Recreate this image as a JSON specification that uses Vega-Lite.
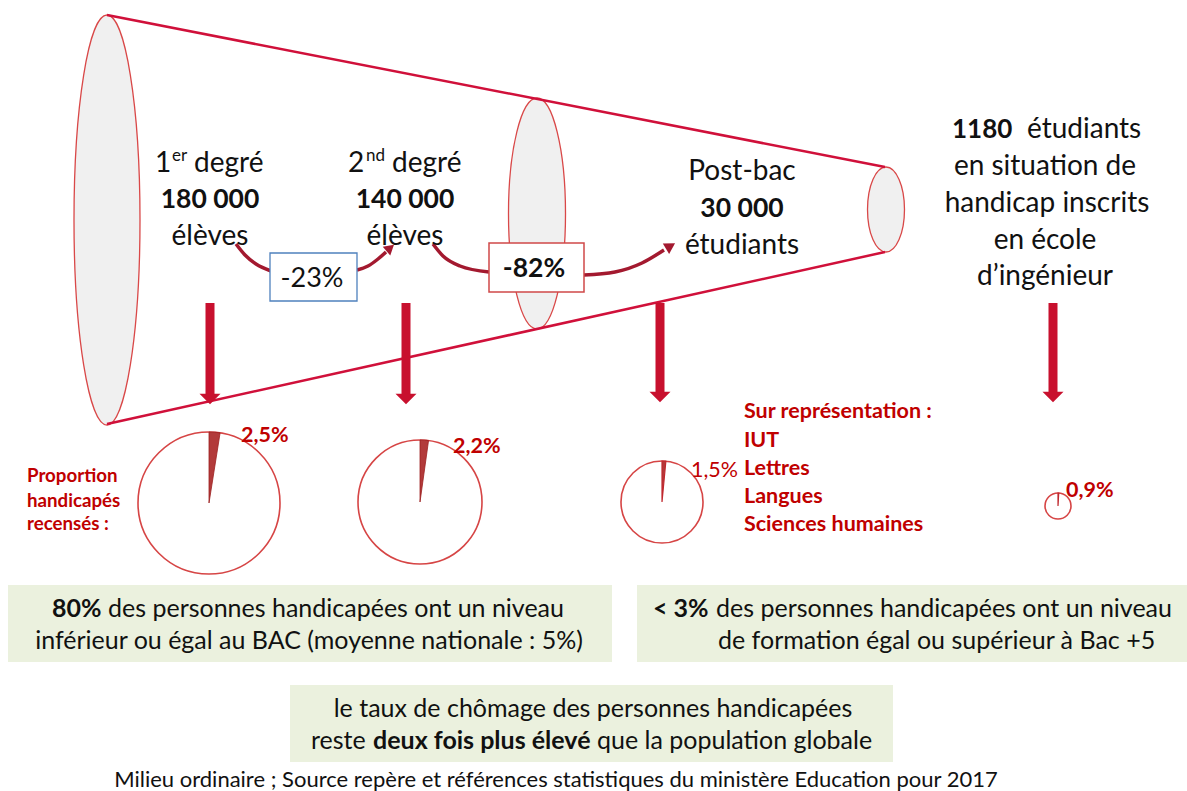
{
  "$schema": "https://vega.github.io/schema/vega-lite/v6.json",
  "width": 1187,
  "height": 791,
  "autosize": {"type": "fit", "contains": "padding"},
  "padding": 0,
  "background": "white",
  "config": {"view": {"stroke": null}, "text": {"font": "Lato"}},
  "datasets": {
    "pies": [
      {"etape": "1er degré", "n": 180000, "pct": 2.5, "x": 209, "y": 503},
      {"etape": "2nd degré", "n": 140000, "pct": 2.2, "x": 420, "y": 502},
      {"etape": "Post-bac", "n": 30000, "pct": 1.5, "x": 662, "y": 502},
      {"etape": "École d'ingénieur", "n": 1180, "pct": 0.9, "x": 1058, "y": 506}
    ]
  },
  "encoding": {
    "x": {"field": "x", "type": "quantitative", "scale": {"domain": [0, 1187], "nice": false, "zero": false}, "axis": null},
    "y": {"field": "y", "type": "quantitative", "scale": {"domain": [0, 791], "nice": false, "zero": false, "reverse": true}, "axis": null}
  },
  "layer": [
    {
      "data": {"values": [{"part": "entrée 1er degré", "x": 107, "y": 220}]},
      "mark": {"type": "point", "shape": "M0,-1C0.0889,-1 0.161,-0.5523 0.161,0C0.161,0.5523 0.0889,1 0,1C-0.0889,1 -0.161,0.5523 -0.161,0C-0.161,-0.5523 -0.0889,-1 0,-1Z", "size": 168100, "filled": true, "fill": "#f0f0f0", "stroke": "#d94848", "strokeWidth": 1.3, "opacity": 1}
    },
    {
      "data": {"values": [{"part": "entrée post-bac", "x": 537, "y": 213.5}]},
      "mark": {"type": "point", "shape": "M0,-1C0.1363,-1 0.2468,-0.5523 0.2468,0C0.2468,0.5523 0.1363,1 0,1C-0.1363,1 -0.2468,0.5523 -0.2468,0C-0.2468,-0.5523 -0.1363,-1 0,-1Z", "size": 53361, "filled": true, "fill": "#f0f0f0", "stroke": "#d94848", "strokeWidth": 1.3, "opacity": 1}
    },
    {
      "data": {"values": [{"part": "sortie", "x": 886, "y": 209.5}]},
      "mark": {"type": "point", "shape": "M0,-1C0.2403,-1 0.435,-0.5523 0.435,0C0.435,0.5523 0.2403,1 0,1C-0.2403,1 -0.435,0.5523 -0.435,0C-0.435,-0.5523 -0.2403,-1 0,-1Z", "size": 7225, "filled": true, "fill": "#f0f0f0", "stroke": "#d94848", "strokeWidth": 1.3, "opacity": 1}
    },
    {
      "data": {"values": [{"edge": "haut", "x": 107, "y": 15, "x2": 885, "y2": 167}, {"edge": "bas", "x": 107, "y": 424, "x2": 885, "y2": 252}]},
      "mark": {"type": "rule", "color": "#d0103a", "strokeWidth": 2.5},
      "encoding": {"x2": {"field": "x2"}, "y2": {"field": "y2"}}
    },
    {
      "data": {"values": [
        {"seg": "A1", "x": 236, "y": 244}, {"seg": "A1", "x": 245, "y": 255}, {"seg": "A1", "x": 256, "y": 264}, {"seg": "A1", "x": 271, "y": 271},
        {"seg": "A2", "x": 357, "y": 270}, {"seg": "A2", "x": 368, "y": 266}, {"seg": "A2", "x": 378, "y": 259}, {"seg": "A2", "x": 386, "y": 252},
        {"seg": "B1", "x": 433, "y": 244}, {"seg": "B1", "x": 443, "y": 256}, {"seg": "B1", "x": 460, "y": 266}, {"seg": "B1", "x": 489, "y": 272},
        {"seg": "B2", "x": 584, "y": 275}, {"seg": "B2", "x": 615, "y": 272}, {"seg": "B2", "x": 642, "y": 263}, {"seg": "B2", "x": 664, "y": 250}
      ]},
      "mark": {"type": "line", "interpolate": "monotone", "color": "#a3192f", "strokeWidth": 3.5},
      "encoding": {"detail": {"field": "seg"}}
    },
    {
      "data": {"values": [{"head": "A", "x": 389, "y": 249}]},
      "mark": {"type": "point", "shape": "triangle", "size": 130, "angle": 49, "filled": true, "color": "#a3192f", "opacity": 1}
    },
    {
      "data": {"values": [{"head": "B", "x": 669, "y": 247}]},
      "mark": {"type": "point", "shape": "triangle", "size": 150, "angle": 59, "filled": true, "color": "#a3192f", "opacity": 1}
    },
    {
      "data": {"values": [{"box": "-23%", "x": 270, "x2": 357, "y": 253, "y2": 301}]},
      "mark": {"type": "rect", "fill": "white", "stroke": "#4f81bd", "strokeWidth": 1.3},
      "encoding": {"x2": {"field": "x2"}, "y2": {"field": "y2"}}
    },
    {
      "data": {"values": [{"box": "-82%", "x": 489, "x2": 584, "y": 243, "y2": 292}]},
      "mark": {"type": "rect", "fill": "white", "stroke": "#d04848", "strokeWidth": 1.5},
      "encoding": {"x2": {"field": "x2"}, "y2": {"field": "y2"}}
    },
    {
      "data": {"values": [{"box": 1, "x": 8, "x2": 612, "y": 585, "y2": 662}, {"box": 2, "x": 637, "x2": 1187, "y": 585, "y2": 662}, {"box": 3, "x": 290, "x2": 893, "y": 685, "y2": 762}]},
      "mark": {"type": "rect", "fill": "#ebf1de"},
      "encoding": {"x2": {"field": "x2"}, "y2": {"field": "y2"}}
    },
    {
      "data": {"values": [{"a": 1, "x": 210, "y": 303, "y2": 395}, {"a": 2, "x": 406, "y": 303, "y2": 395}, {"a": 3, "x": 660, "y": 303, "y2": 393}, {"a": 4, "x": 1053, "y": 303, "y2": 393}]},
      "mark": {"type": "rule", "color": "#c8102e", "strokeWidth": 9, "strokeCap": "butt"},
      "encoding": {"y2": {"field": "y2"}}
    },
    {
      "data": {"values": [{"a": 1, "x": 210, "y": 399}, {"a": 2, "x": 406, "y": 399}, {"a": 3, "x": 660, "y": 397}, {"a": 4, "x": 1053, "y": 397}]},
      "mark": {"type": "point", "shape": "M-1,-0.5L1,-0.5L0,0.5Z", "size": 441, "filled": true, "color": "#c8102e", "opacity": 1}
    },
    {
      "data": {"name": "pies"},
      "transform": [{"filter": "datum.etape === '1er degré'"}],
      "layer": [
        {"mark": {"type": "arc", "theta": 0, "theta2": 6.2832, "radius": 71, "fill": "white", "stroke": "#d64545", "strokeWidth": 1.6}},
        {"mark": {"type": "arc", "radius": 71, "fill": "#b23a3a", "stroke": "#9c1f1f", "strokeWidth": 0.8},
         "encoding": {"theta": {"field": "pct", "type": "quantitative", "stack": null, "scale": {"domain": [0, 100], "range": [0, 6.283185]}}, "theta2": {"datum": 0}}}
      ]
    },
    {
      "data": {"name": "pies"},
      "transform": [{"filter": "datum.etape === '2nd degré'"}],
      "layer": [
        {"mark": {"type": "arc", "theta": 0, "theta2": 6.2832, "radius": 62, "fill": "white", "stroke": "#d64545", "strokeWidth": 1.6}},
        {"mark": {"type": "arc", "radius": 62, "fill": "#b23a3a", "stroke": "#9c1f1f", "strokeWidth": 0.8},
         "encoding": {"theta": {"field": "pct", "type": "quantitative", "stack": null, "scale": {"domain": [0, 100], "range": [0, 6.283185]}}, "theta2": {"datum": 0}}}
      ]
    },
    {
      "data": {"name": "pies"},
      "transform": [{"filter": "datum.etape === 'Post-bac'"}],
      "layer": [
        {"mark": {"type": "arc", "theta": 0, "theta2": 6.2832, "radius": 41, "fill": "white", "stroke": "#d64545", "strokeWidth": 1.6}},
        {"mark": {"type": "arc", "radius": 41, "fill": "#b23a3a", "stroke": "#c0282e", "strokeWidth": 1.2},
         "encoding": {"theta": {"field": "pct", "type": "quantitative", "stack": null, "scale": {"domain": [0, 100], "range": [0, 6.283185]}}, "theta2": {"datum": 0}}}
      ]
    },
    {
      "data": {"name": "pies"},
      "transform": [{"filter": "datum.etape === \"École d'ingénieur\""}],
      "layer": [
        {"mark": {"type": "arc", "theta": 0, "theta2": 6.2832, "radius": 13, "fill": "white", "stroke": "#d64545", "strokeWidth": 1.6}},
        {"mark": {"type": "arc", "radius": 13, "fill": "#b23a3a", "stroke": "#c0282e", "strokeWidth": 1.2},
         "encoding": {"theta": {"field": "pct", "type": "quantitative", "stack": null, "scale": {"domain": [0, 100], "range": [0, 6.283185]}}, "theta2": {"datum": 0}}}
      ]
    },
    {
      "data": {"values": [
        {"t": "élèves", "x": 210, "y": 245}, {"t": "élèves", "x": 405, "y": 245},
        {"t": "Post-bac", "x": 742, "y": 180}, {"t": "étudiants", "x": 742, "y": 254},
        {"t": "en situation de", "x": 1045, "y": 175}, {"t": "handicap inscrits", "x": 1047, "y": 212},
        {"t": "en école", "x": 1045, "y": 249}, {"t": "d’ingénieur", "x": 1045, "y": 285}
      ]},
      "mark": {"type": "text", "fontSize": 28, "color": "#111111", "align": "center", "baseline": "alphabetic"},
      "encoding": {"text": {"field": "t"}}
    },
    {
      "data": {"values": [{"t": "-23%", "x": 312, "y": 287}]},
      "mark": {"type": "text", "fontSize": 27, "color": "#111111", "align": "center", "baseline": "alphabetic"},
      "encoding": {"text": {"field": "t"}}
    },
    {
      "data": {"values": [
        {"t": "1", "x": 155, "y": 172}, {"t": "degré", "x": 194, "y": 172},
        {"t": "2", "x": 348, "y": 172}, {"t": "degré", "x": 392, "y": 172},
        {"t": "étudiants", "x": 1027, "y": 138}
      ]},
      "mark": {"type": "text", "fontSize": 28, "color": "#111111", "align": "left", "baseline": "alphabetic"},
      "encoding": {"text": {"field": "t"}}
    },
    {
      "data": {"values": [{"t": "er", "x": 172, "y": 161}, {"t": "nd", "x": 366, "y": 161}]},
      "mark": {"type": "text", "fontSize": 17, "color": "#111111", "align": "left", "baseline": "alphabetic"},
      "encoding": {"text": {"field": "t"}}
    },
    {
      "data": {"values": [
        {"t": "180 000", "x": 210, "y": 208}, {"t": "140 000", "x": 405, "y": 208},
        {"t": "30 000", "x": 742, "y": 217}, {"t": "-82%", "x": 534, "y": 277}
      ]},
      "mark": {"type": "text", "fontSize": 26.5, "fontWeight": "bold", "color": "#111111", "align": "center", "baseline": "alphabetic"},
      "encoding": {"text": {"field": "t"}}
    },
    {
      "data": {"values": [{"t": "1180", "x": 952, "y": 138}]},
      "mark": {"type": "text", "fontSize": 26, "fontWeight": "bold", "color": "#111111", "align": "left", "baseline": "alphabetic"},
      "encoding": {"text": {"field": "t"}}
    },
    {
      "data": {"values": [
        {"t": "2,5%", "x": 241, "y": 442}, {"t": "2,2%", "x": 453, "y": 453}, {"t": "0,9%", "x": 1066, "y": 497},
        {"t": "Sur représentation :", "x": 744, "y": 418}, {"t": "IUT", "x": 744, "y": 447}, {"t": "Lettres", "x": 744, "y": 475},
        {"t": "Langues", "x": 744, "y": 503}, {"t": "Sciences humaines", "x": 744, "y": 531}
      ]},
      "mark": {"type": "text", "fontSize": 21.5, "fontWeight": "bold", "color": "#c00000", "align": "left", "baseline": "alphabetic"},
      "encoding": {"text": {"field": "t"}}
    },
    {
      "data": {"values": [
        {"t": "Proportion", "x": 27, "y": 482}, {"t": "handicapés", "x": 27, "y": 507}, {"t": "recensés :", "x": 27, "y": 530}
      ]},
      "mark": {"type": "text", "fontSize": 18.7, "fontWeight": "bold", "color": "#c00000", "align": "left", "baseline": "alphabetic"},
      "encoding": {"text": {"field": "t"}}
    },
    {
      "data": {"values": [{"t": "1,5%", "x": 691, "y": 477}]},
      "mark": {"type": "text", "fontSize": 21.5, "color": "#c00000", "align": "left", "baseline": "alphabetic"},
      "encoding": {"text": {"field": "t"}}
    },
    {
      "data": {"values": [
        {"t": "des personnes handicapées ont un niveau", "x": 108, "y": 617},
        {"t": "des personnes handicapées ont un niveau", "x": 716, "y": 617},
        {"t": "de formation égal ou supérieur à Bac +5", "x": 718, "y": 649},
        {"t": "reste", "x": 311, "y": 749},
        {"t": "que la population globale", "x": 597, "y": 749}
      ]},
      "mark": {"type": "text", "fontSize": 25, "color": "#111111", "align": "left", "baseline": "alphabetic"},
      "encoding": {"text": {"field": "t"}}
    },
    {
      "data": {"values": [
        {"t": "inférieur ou égal au BAC (moyenne nationale : 5%)", "x": 309, "y": 649},
        {"t": "le taux de chômage des personnes handicapées", "x": 593, "y": 717}
      ]},
      "mark": {"type": "text", "fontSize": 25, "color": "#111111", "align": "center", "baseline": "alphabetic"},
      "encoding": {"text": {"field": "t"}}
    },
    {
      "data": {"values": [
        {"t": "80%", "x": 52, "y": 617},
        {"t": "< 3%", "x": 653, "y": 617},
        {"t": "deux fois plus élevé", "x": 373, "y": 749}
      ]},
      "mark": {"type": "text", "fontSize": 25, "fontWeight": "bold", "color": "#111111", "align": "left", "baseline": "alphabetic"},
      "encoding": {"text": {"field": "t"}}
    },
    {
      "data": {"values": [{"t": "Milieu ordinaire ; Source repère et références statistiques du ministère Education pour 2017", "x": 556, "y": 787}]},
      "mark": {"type": "text", "fontSize": 22, "color": "#111111", "align": "center", "baseline": "alphabetic"},
      "encoding": {"text": {"field": "t"}}
    }
  ]
}
